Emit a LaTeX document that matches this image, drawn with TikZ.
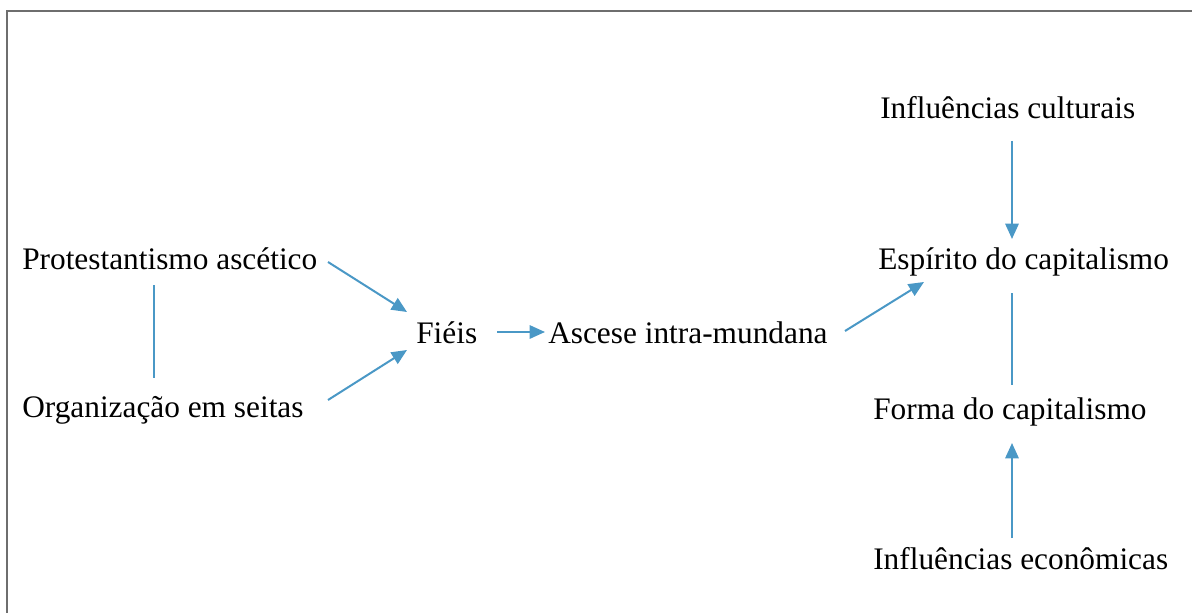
\documentclass[tikz,border=0pt]{standalone}
\usepackage{fontspec}
\setmainfont{Liberation Serif}
\usetikzlibrary{arrows.meta}
\definecolor{arr}{RGB}{74,152,198}
\definecolor{frame}{RGB}{110,110,110}
\tikzset{
  lbl/.style={anchor=base west, inner sep=0pt, font=\fontsize{23.5pt}{28pt}\selectfont},
  con/.style={draw=arr, line width=1.5pt},
  arw/.style={con, -{Triangle[length=11.5pt,width=10pt]}}
}
\begin{document}
\begin{tikzpicture}[x=0.75pt,y=-0.75pt]
\useasboundingbox (0,0) rectangle (1192,613);
\draw[frame, line width=1.6pt] (7,613) -- (7,11) -- (1192,11);
\node[lbl] (prot) at (22,269) {Protestantismo ascético};
\node[lbl] (org) at (22,417) {Organização em seitas};
\node[lbl] (fieis) at (416,343) {Fiéis};
\node[lbl] (asc) at (548,343) {Ascese intra-mundana};
\node[lbl] (cult) at (880,119) {Influências culturais};
\node[lbl] (esp) at (878,269) {Espírito do capitalismo};
\node[lbl] (forma) at (873,419) {Forma do capitalismo};
\node[lbl] (econ) at (873,569) {Influências econômicas};
% connector end points
\coordinate (p1) at (328,262);  \coordinate (f1) at (407,312);
\coordinate (o1) at (328,400);  \coordinate (f2) at (407,350);
\coordinate (f3) at (497,332);  \coordinate (a1) at (545,332);
\coordinate (a2) at (845,331);  \coordinate (e1) at (924,282);
\coordinate (c1) at (1012,141); \coordinate (e2) at (1012,239);
\coordinate (e3) at (1012,293); \coordinate (m1) at (1012,385);
\coordinate (n1) at (1012,538); \coordinate (m2) at (1012,443);
\coordinate (pl1) at (154,285); \coordinate (pl2) at (154,378);
\draw[con] (pl1) -- (pl2);
\draw[arw] (p1) -- (f1);
\draw[arw] (o1) -- (f2);
\draw[arw] (f3) -- (a1);
\draw[arw] (a2) -- (e1);
\draw[arw] (c1) -- (e2);
\draw[con] (e3) -- (m1);
\draw[arw] (n1) -- (m2);
\end{tikzpicture}
\end{document}
